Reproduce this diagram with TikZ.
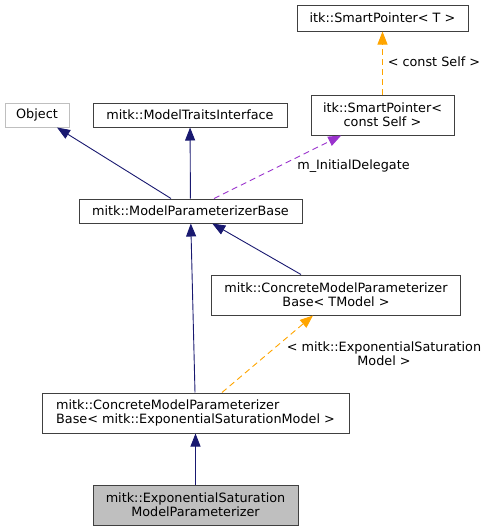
\documentclass[tikz,border=0pt]{standalone}
\usepackage{fontspec}
\setmainfont{DejaVu Sans}
\usetikzlibrary{arrows.meta}
\definecolor{edgeblue}{HTML}{191970}
\definecolor{delegpurple}{HTML}{9A32CD}
\definecolor{tmplorange}{HTML}{FFA500}
\definecolor{boxgray}{HTML}{BFBFBF}
\definecolor{boxline}{HTML}{404040}

\begin{document}
\begin{tikzpicture}[x=1pt,y=-1pt,
 cls/.style={draw=boxline,line width=1pt,fill=white,inner sep=0pt,align=center,font=\fontsize{12.8}{14}\selectfont},
 lbl/.style={inner sep=0pt,align=center,font=\fontsize{12.8}{14}\selectfont},
 inh/.style={draw=edgeblue,line width=0.9pt,-{Triangle[length=13pt,width=10pt]}},
 deleg/.style={draw=delegpurple,line width=0.9pt,dash pattern=on 6pt off 4pt,-{Triangle[length=13pt,width=10pt]}},
 tmpl/.style={draw=tmplorange,line width=0.9pt,dash pattern=on 6pt off 4pt,-{Triangle[length=13pt,width=10pt]}},
]
 \useasboundingbox (0,0) rectangle (488,531);
 % classes
 \node[cls,minimum width=171pt,minimum height=26pt] (spt) at (382.5,18) {itk::SmartPointer< T >};
 \node[cls,minimum width=143pt,minimum height=40pt] (spcs) at (382.5,115) {itk::SmartPointer<\\const Self >};
 \node[cls,draw=boxgray,minimum width=64pt,minimum height=24pt] (obj) at (37,115) {Object};
 \node[cls,minimum width=194pt,minimum height=24pt] (mti) at (190,115) {mitk::ModelTraitsInterface};
 \node[cls,minimum width=223pt,minimum height=24pt] (mpb) at (190.5,211) {mitk::ModelParameterizerBase};
 \node[cls,minimum width=249pt,minimum height=40pt] (cmpbt) at (336,295) {mitk::ConcreteModelParameterizer\\Base< TModel >};
 \node[cls,align=left,minimum width=307pt,minimum height=40pt] (cmpbexp) at (195.5,413) {mitk::ConcreteModelParameterizer\\Base< mitk::ExponentialSaturationModel >};
 \node[cls,fill=boxgray,minimum width=205pt,minimum height=40pt] (emsp) at (195.5,505) {mitk::ExponentialSaturation\\ModelParameterizer};

 % edges
 \draw[tmpl] (spcs) -- (spt);
 \draw[inh] ([xshift=-19.5pt]mpb.north) -- (obj);
 \draw[inh] (mpb) -- (mti);
 \draw[deleg] ([xshift=23.5pt]mpb.north) -- (spcs);
 \draw[inh] (cmpbexp) -- (mpb);
 \draw[inh] ([xshift=-35pt]cmpbt.north) -- (mpb);
 \draw[tmpl] ([xshift=26.5pt]cmpbexp.north) -- ([xshift=-23pt]cmpbt.south);
 \draw[inh] (emsp) -- (cmpbexp);

 % labels
 \node[lbl] (lblself) at (434,62) {< const Self >};
 \node[lbl] (lbldeleg) at (353.5,166) {m\_InitialDelegate};
 \node[lbl] (lblexp) at (384,353.5) {< mitk::ExponentialSaturation\\Model >};
\end{tikzpicture}
\end{document}
